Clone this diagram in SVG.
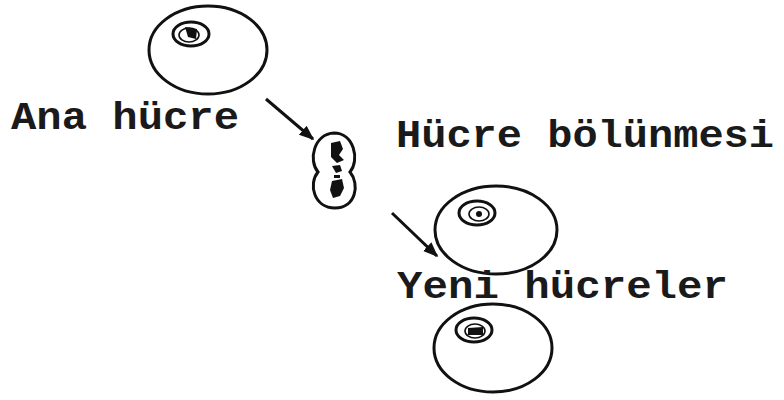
<svg xmlns="http://www.w3.org/2000/svg" width="784" height="400" viewBox="0 0 784 400">
  <style>
    .cell { fill: none; stroke: #111; stroke-width: 3; }
    .nuc { fill: none; stroke: #111; stroke-width: 3; }
    .nin { fill: none; stroke: #111; stroke-width: 1.6; }
    .chr { fill: #111; }
    .lbl { font-family: "Liberation Mono", "Courier New", monospace; font-size: 38px; font-weight: bold; fill: #1a1a1a; }
    .con { stroke: #111; stroke-width: 3; fill: none; }
  </style>
  <defs>
    <marker id="head" viewBox="0 0 10 10" refX="9" refY="5" markerWidth="5" markerHeight="5" orient="auto" markerUnits="strokeWidth">
      <path d="M0,1 L10,5 L0,9 z" fill="#111"/>
    </marker>
  </defs>
  <rect width="784" height="400" fill="#fff"/>

  <!-- parent cell -->
  <g id="ana-hucre">
    <ellipse class="cell" cx="208" cy="50" rx="59" ry="44"/>
    <ellipse class="nuc" cx="191" cy="34" rx="18" ry="12"/>
    <ellipse class="nin" cx="189" cy="35" rx="10" ry="7"/>
    <path class="chr" d="M185,27 L197,29 L196,39 L188,37 Z"/>
    <text class="lbl" x="11" y="129" textLength="228" lengthAdjust="spacingAndGlyphs">Ana hücre</text>
  </g>

  <!-- dividing cell -->
  <g id="hucre-bolunmesi">
    <path class="cell" d="M318,172 C308,160 314,134 334,133 C354,133 360,160 350,172 C360,184 356,208 335,208 C314,208 308,184 318,172 Z"/>
    <path class="chr" d="M331,143 L340,141 L343,149 L339,155 L344,160 L337,163 L331,157 Z"/>
    <path class="chr" d="M332,166 L340,165 L342,171 L336,173 Z"/>
    <rect class="chr" x="334" y="175" width="6" height="3"/>
    <path class="chr" d="M332,181 L342,179 L344,188 L340,196 L333,198 L330,190 Z"/>
    <text class="lbl" x="396" y="147" textLength="378" lengthAdjust="spacingAndGlyphs">Hücre bölünmesi</text>
  </g>

  <!-- daughter cell 1 -->
  <g id="yeni-hucre-1">
    <ellipse class="cell" cx="496" cy="230" rx="61" ry="44"/>
    <ellipse class="nuc" cx="477" cy="213" rx="18" ry="12"/>
    <ellipse class="nin" cx="479" cy="214" rx="10" ry="7"/>
    <circle class="chr" cx="479" cy="214" r="3"/>
  </g>

  <!-- daughter cell 2 -->
  <g id="yeni-hucre-2">
    <ellipse class="cell" cx="493" cy="348" rx="59" ry="44"/>
    <ellipse class="nuc" cx="474" cy="330" rx="18" ry="12"/>
    <ellipse class="nin" cx="475" cy="331" rx="10" ry="7"/>
    <path class="chr" d="M468,328 L483,327 L483,335 L468,335 Z"/>
    <text class="lbl" x="397" y="298" textLength="331" lengthAdjust="spacingAndGlyphs">Yeni hücreler</text>
  </g>

  <!-- connectors -->
  <g id="connectors">
    <line class="con" x1="266" y1="99" x2="313" y2="139" marker-end="url(#head)"/>
    <line class="con" x1="392" y1="213" x2="437" y2="256" marker-end="url(#head)"/>
  </g>
</svg>
